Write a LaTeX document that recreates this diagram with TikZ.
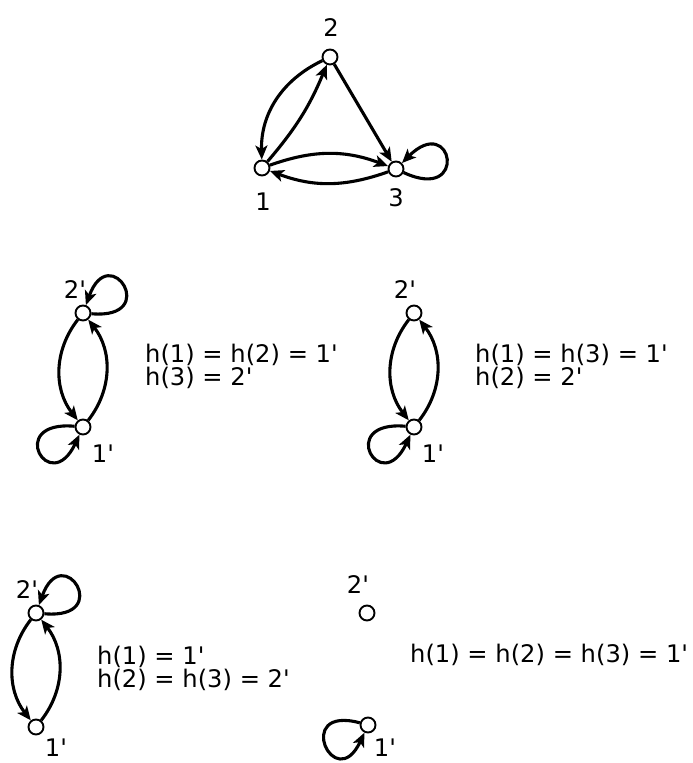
\documentclass[tikz,border=0pt]{standalone}
\usepackage{fontspec}
\setmainfont{DejaVu Sans}[Ligatures=TeXOff]
\usetikzlibrary{arrows.meta,positioning}

\begin{document}
\begin{tikzpicture}[
  x=1pt,y=1pt,
  font=\fontsize{24.2}{23.5}\selectfont,
  vert/.style={draw,circle,fill=white,line width=1.9pt,inner sep=0pt,minimum size=15pt},
  arrow/.style={-{Stealth[length=14pt,width=12pt,inset=3.5pt]},line width=3.1pt},
  every loop/.style={},
  lbl/.style={inner sep=0pt},
  rel/.style={anchor=base west,align=left,inner sep=0pt}
]
\useasboundingbox (0,0) rectangle (693,763);

% graph G
\node[vert] (n2) at (330,706) {};
\node[vert] (n1) at (262,595) {};
\node[vert] (n3) at (396,594) {};
\node[lbl] (l2) at (331,735) {2};
\node[lbl] (l1) at (263,561) {1};
\node[lbl] (l3) at (396,565) {3};

\draw[arrow] (n2) to[bend right=33] (n1);
\draw[arrow] (n1) to[bend right=9] (n2);
\draw[arrow] (n2) -- (n3);
\draw[arrow] (n1) to[bend left=20] (n3);
\draw[arrow] (n3) to[bend left=20] (n1);
\draw[arrow] (n3) to[loop,out=-25,in=45,min distance=72pt] (n3);

% h(1) = h(2) = 1'
\node[vert] (a2) at (83,450) {};
\node[vert] (a1) at (83,336) {};
\node[lbl] (la2) at (75,473) {2'};
\node[lbl] (la1) at (103,309) {1'};
\draw[arrow] (a2) to[bend right=38] (a1);
\draw[arrow] (a1) to[bend right=38] (a2);
\draw[arrow] (a2) to[loop,out=-5,in=70,min distance=70pt] (a2);
\draw[arrow] (a1) to[loop,out=175,in=-115,min distance=70pt] (a1);
\node[rel] (ha) at (145,377) {h(1) = h(2) = 1'\\h(3) = 2'};

% h(1) = h(3) = 1'
\node[vert] (b2) at (414,450) {};
\node[vert] (b1) at (414,336) {};
\node[lbl] (lb2) at (405,473) {2'};
\node[lbl] (lb1) at (433,309) {1'};
\draw[arrow] (b2) to[bend right=38] (b1);
\draw[arrow] (b1) to[bend right=38] (b2);
\draw[arrow] (b1) to[loop,out=175,in=-115,min distance=70pt] (b1);
\node[rel] (hb) at (475,377) {h(1) = h(3) = 1'\\h(2) = 2'};

% h(2) = h(3) = 2'
\node[vert] (c2) at (36,150) {};
\node[vert] (c1) at (36,36) {};
\node[lbl] (lc2) at (27,173) {2'};
\node[lbl] (lc1) at (56,15) {1'};
\draw[arrow] (c2) to[bend right=38] (c1);
\draw[arrow] (c1) to[bend right=38] (c2);
\draw[arrow] (c2) to[loop,out=-5,in=70,min distance=70pt] (c2);
\node[rel] (hc) at (97,75) {h(1) = 1'\\h(2) = h(3) = 2'};

% h(1) = h(2) = h(3) = 1'
\node[vert] (d2) at (367,150) {};
\node[vert] (d1) at (368,38) {};
\node[lbl] (ld2) at (358,178) {2'};
\node[lbl] (ld1) at (385,15) {1'};
\draw[arrow] (d1) to[loop,out=165,in=-115,min distance=70pt] (d1);
\node[rel] (hd) at (410,100) {h(1) = h(2) = h(3) = 1'};
\end{tikzpicture}
\end{document}
